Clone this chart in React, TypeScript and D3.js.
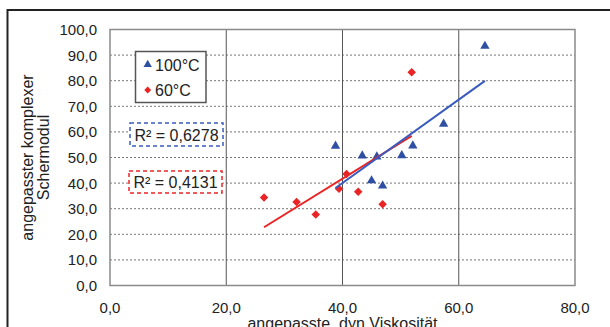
import React from "react";
import * as d3 from "d3";

const xTicks = [0, 20, 40, 60, 80];
const yTicks = [0, 10, 20, 30, 40, 50, 60, 70, 80, 90, 100];

const blueX = [64.5, 57.4, 52.1, 50.2, 45.9, 43.4, 38.8, 45.0, 46.9];
const blueY = [93.5, 63.1, 54.6, 50.8, 50.3, 50.7, 54.5, 41.0, 38.9];
const redX = [26.5, 32.1, 35.4, 39.4, 40.7, 42.7, 46.9, 51.9];
const redY = [34.4, 32.6, 27.7, 37.8, 43.6, 36.6, 31.7, 83.3];

const seriesNames = ["100°C", "60°C"];
const r2Labels = ["R² = 0,6278", "R² = 0,4131"];
const xTitle = "angepasste  dyn.Viskosität";
const yTitleLines = ["angepasster komplexer", "Schermodul"];

const BLUE = "#2f4fa3";
const BLUE_LINE = "#3a5bbf";
const RED = "#ea2424";
const FONT = "'Liberation Sans', Arial, sans-serif";

function fit(xs: number[], ys: number[]) {
  const mx = d3.mean(xs) as number;
  const my = d3.mean(ys) as number;
  let sxy = 0, sxx = 0;
  xs.forEach((x, i) => { sxy += (x - mx) * (ys[i] - my); sxx += (x - mx) * (x - mx); });
  const slope = sxy / sxx;
  const b = my - slope * mx;
  const [x0, x1] = d3.extent(xs) as [number, number];
  return [[x0, slope * x0 + b], [x1, slope * x1 + b]] as [number, number][];
}

export default function App() {
  const x = d3.scaleLinear().domain([0, 80]).range([110, 575]);
  const y = d3.scaleLinear().domain([0, 100]).range([285.5, 29.5]);
  const line = d3.line<[number, number]>().x(d => x(d[0])).y(d => y(d[1]));
  const tri = d3.symbol().type(d3.symbolTriangle).size(38)() as string;
  const sq = d3.symbol().type(d3.symbolSquare).size(36)() as string;
  const triSmall = d3.symbol().type(d3.symbolTriangle).size(30)() as string;
  const blue = blueX.map((v, i) => [v, blueY[i]] as [number, number]);
  const red = redX.map((v, i) => [v, redY[i]] as [number, number]);
  const blueFit = fit(blueX, blueY);
  const redFit = fit(redX, redY);

  return (
    <svg width={610} height={327} style={{ position: "absolute", left: 0, top: 0, background: "#fff" }} fontFamily={FONT}>
      <rect x={7.5} y={10} width={800} height={500} fill="#fff" stroke="#222" strokeWidth={2} />
      {/* horizontal dashed grid */}
      {yTicks.filter(t => t > 0 && t < 100).map(t => (
        <line key={"h" + t} x1={x(0)} x2={x(80)} y1={y(t)} y2={y(t)} stroke="#777" strokeWidth={1} strokeDasharray="2,2" />
      ))}
      {/* vertical solid grid */}
      {xTicks.filter(t => t > 0 && t < 80).map(t => (
        <line key={"v" + t} x1={x(t)} x2={x(t)} y1={y(0)} y2={y(100)} stroke="#555" strokeWidth={1} />
      ))}
      <rect x={x(0)} y={y(100)} width={x(80) - x(0)} height={y(0) - y(100)} fill="none" stroke="#8a8a8a" strokeWidth={1.5} />
      {/* tick labels */}
      {yTicks.map(t => (
        <text key={"yl" + t} x={97} y={y(t) + 5.5} textAnchor="end" fontSize={15} fill="#222">{d3.format(".1f")(t).replace(".", ",")}</text>
      ))}
      {xTicks.map(t => (
        <text key={"xl" + t} x={x(t)} y={313} textAnchor="middle" fontSize={15} fill="#222">{d3.format(".1f")(t).replace(".", ",")}</text>
      ))}
      {/* axis titles */}
      <text x={(x(0) + x(80)) / 2} y={329} textAnchor="middle" fontSize={16} fill="#222" style={{ whiteSpace: "pre" }}>{xTitle}</text>
      {yTitleLines.map((l, i) => (
        <text key={"yt" + i} transform={`translate(${33 + i * 16},${(y(0) + y(100)) / 2}) rotate(-90)`} textAnchor="middle" fontSize={16} fill="#222">{l}</text>
      ))}
      {/* markers */}
      {red.map((d, i) => (
        <path key={"r" + i} d={sq} transform={`translate(${x(d[0])},${y(d[1])}) rotate(45)`} fill={RED} />
      ))}
      {blue.map((d, i) => (
        <path key={"b" + i} d={tri} transform={`translate(${x(d[0])},${y(d[1])})`} fill={BLUE} />
      ))}
      {/* trend lines */}
      <path d={line(redFit) as string} fill="none" stroke={RED} strokeWidth={2} />
      <path d={line(blueFit) as string} fill="none" stroke={BLUE_LINE} strokeWidth={2} />
      {/* legend */}
      <rect x={135.5} y={51.5} width={70.5} height={51} fill="#fff" stroke="#555" strokeWidth={1.5} />
      <path d={triSmall} transform="translate(147.7,64.5)" fill={BLUE} />
      <text x={155} y={70.5} fontSize={16} fill="#222">{seriesNames[0]}</text>
      <path d={d3.symbol().type(d3.symbolSquare).size(24)() as string} transform="translate(147.7,90) rotate(45)" fill={RED} />
      <text x={155} y={96} fontSize={16} fill="#222">{seriesNames[1]}</text>
      {/* R² labels */}
      <rect x={130} y={123} width={93} height={23} fill="#fff" stroke={BLUE_LINE} strokeWidth={1.5} strokeDasharray="4,3" />
      <text x={176.5} y={140.5} textAnchor="middle" fontSize={16} fill="#222">{r2Labels[0]}</text>
      <rect x={129} y={171} width={93} height={22} fill="#fff" stroke={RED} strokeWidth={1.5} strokeDasharray="4,3" />
      <text x={175.5} y={187.5} textAnchor="middle" fontSize={16} fill="#222">{r2Labels[1]}</text>
    </svg>
  );
}
